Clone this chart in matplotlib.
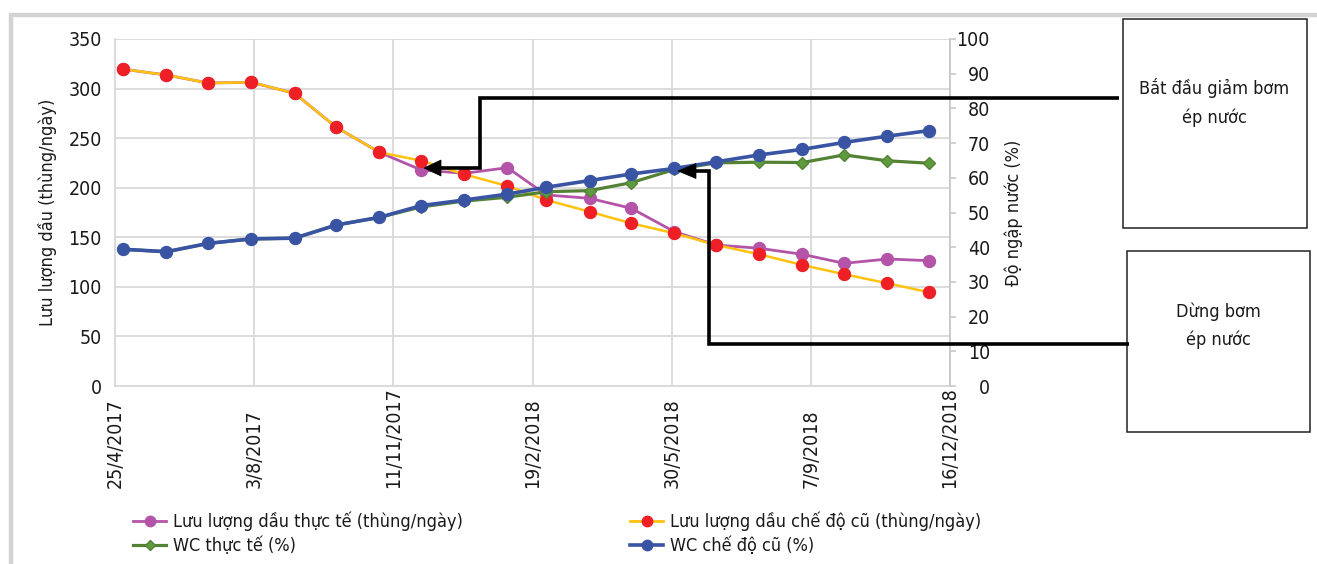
import matplotlib
matplotlib.use('Agg')
import matplotlib.pyplot as plt
import matplotlib.font_manager as fm
from matplotlib.patches import Rectangle, Polygon
from matplotlib.lines import Line2D
import pandas as pd

# ---------------- data ----------------
dates = ['2017-05-01', '2017-06-01', '2017-07-01', '2017-08-01', '2017-09-01',
         '2017-10-01', '2017-11-01', '2017-12-01', '2018-01-01', '2018-02-01',
         '2018-03-01', '2018-04-01', '2018-05-01', '2018-06-01', '2018-07-01',
         '2018-08-01', '2018-09-01', '2018-10-01', '2018-11-01', '2018-12-01']
oil_actual = [319.5, 313.7, 305.6, 306.3, 295.2, 261.0, 235.7, 217.9, 214.5, 220.2,
              192.7, 189.3, 179.2, 155.6, 142.2, 138.9, 132.8, 123.7, 128.1, 126.4]
oil_old = [319.5, 313.7, 305.6, 306.3, 295.2, 261.0, 235.7, 227.3, 213.5, 201.7,
           187.6, 175.8, 164.1, 154.0, 142.2, 132.8, 122.0, 112.7, 103.6, 94.5]
wc_actual = [39.4, 38.7, 41.1, 42.4, 42.6, 46.4, 48.6, 51.6, 53.3, 54.4,
             56.0, 56.3, 58.6, 62.4, 64.3, 64.5, 64.4, 66.6, 64.9, 64.2]
wc_old = [39.4, 38.7, 41.1, 42.4, 42.6, 46.4, 48.6, 52.0, 53.6, 55.3,
          57.3, 59.2, 61.1, 62.7, 64.6, 66.6, 68.2, 70.2, 72.0, 73.6]

xtick_dates = ['2017-04-25', '2017-08-03', '2017-11-11', '2018-02-19',
               '2018-05-30', '2018-09-07', '2018-12-16']
xtick_labels = ['25/4/2017', '3/8/2017', '11/11/2017', '19/2/2018',
                '30/5/2018', '7/9/2018', '16/12/2018']
left_ticks = [0, 50, 100, 150, 200, 250, 300, 350]
right_ticks = [0, 10, 20, 30, 40, 50, 60, 70, 80, 90, 100]

series_names = ['Lưu lượng dầu thực tế (thùng/ngày)',
                'Lưu lượng dầu chế độ cũ (thùng/ngày)',
                'WC thực tế (%)',
                'WC chế độ cũ (%)']
left_label = 'Lưu lượng dầu (thùng/ngày)'
right_label = 'Độ ngập nước (%)'
box1_lines = ['Bắt đầu giảm bơm', 'ép nước']
box2_lines = ['Dừng bơm', 'ép nước']

# ---------------- fonts ----------------
names = {f.name for f in fm.fontManager.ttflist}
if 'Liberation Sans Narrow' in names:
    plt.rcParams['font.family'] = ['Liberation Sans Narrow', 'DejaVu Sans']
    FS = 14.5
    FT = 15.5
else:
    plt.rcParams['font.family'] = ['DejaVu Sans']
    has_cond = any(f.name == 'DejaVu Sans' and 'condensed' in str(f.stretch)
                   for f in fm.fontManager.ttflist)
    if has_cond:
        plt.rcParams['font.stretch'] = 'condensed'
        FS = 13
        FT = 14
    else:
        FS = 11.5
        FT = 12.5
TXT = '#1a1a1a'
GRID = '#D9D9D9'

# ---------------- figure ----------------
W, H = 1317, 564
fig = plt.figure(figsize=(W / 100, H / 100), dpi=100)
fig.patch.set_facecolor('white')


def fx(x):
    return x / W


def fy(y):
    return 1 - y / H


ax = fig.add_axes([fx(115), fy(386), (950 - 115) / W, (386 - 39) / H])
ax2 = ax.twinx()

x = pd.to_datetime(dates)

c_pink = '#B454A8'
c_red = '#EE2025'
c_yel = '#FFC20E'
c_grn_l = '#548235'
c_grn_m = '#5E9B3F'
c_blue = '#3A54A4'

ax.plot(x, oil_actual, color=c_pink, lw=2.0, marker='o', ms=8.6,
        mfc=c_pink, mec=c_pink, zorder=3)
ax.plot(x, oil_old, color=c_yel, lw=1.8, marker='o', ms=8.6,
        mfc=c_red, mec=c_red, zorder=4)
ax2.plot(x, wc_actual, color=c_grn_l, lw=2.3, marker='D', ms=6.0,
         mfc=c_grn_m, mec=c_grn_l, zorder=3)
ax2.plot(x, wc_old, color=c_blue, lw=2.6, marker='o', ms=8.6,
         mfc=c_blue, mec=c_blue, zorder=4)

xt = pd.to_datetime(xtick_dates)
ax.set_xlim(xt[0], xt[-1])
ax.set_ylim(0, 350)
ax2.set_ylim(0, 100)

ax.set_xticks(xt)
ax.set_xticklabels(xtick_labels)
ax.set_yticks(left_ticks)
ax2.set_yticks(right_ticks)

ax.grid(True, color=GRID, lw=1.3)
ax.set_axisbelow(True)

for s in ['top', 'right']:
    ax.spines[s].set_visible(False)
for s in ['left', 'bottom']:
    ax.spines[s].set_color(GRID)
    ax.spines[s].set_linewidth(1.3)
for s in ['top', 'left', 'bottom']:
    ax2.spines[s].set_visible(False)
ax2.spines['right'].set_color('#C8C8C8')
ax2.spines['right'].set_linewidth(1.3)

ax.tick_params(axis='y', length=0, pad=9.5, labelsize=FT, labelcolor=TXT)
ax.tick_params(axis='x', length=0, pad=73.4, labelsize=FT, labelcolor=TXT,
               labelrotation=90)
for lab in ax.get_xticklabels():
    lab.set_ha('left')
    lab.set_va('center')
    lab.set_rotation_mode('anchor')

ax2.tick_params(axis='y', length=4.3, width=1.2, color='#C8C8C8',
                pad=24.5, labelsize=FT, labelcolor=TXT)
for lab in ax2.get_yticklabels():
    lab.set_ha('right')

ax.set_ylabel(left_label, fontsize=FS, color=TXT, va='center')
ax.yaxis.set_label_coords((47.5 - 115) / 835, 0.5)
ax2.set_ylabel(right_label, fontsize=FS, color=TXT, va='center')
ax2.yaxis.set_label_coords((1014 - 115) / 835, 0.5)

# ---------------- legends ----------------
h_pink = Line2D([], [], color=c_pink, lw=2.0, marker='o', ms=7.5, mfc=c_pink, mec=c_pink)
h_red = Line2D([], [], color=c_yel, lw=2.0, marker='o', ms=7.5, mfc=c_red, mec=c_red)
h_grn = Line2D([], [], color=c_grn_l, lw=2.3, marker='D', ms=5.5, mfc=c_grn_m, mec=c_grn_l)
h_blue = Line2D([], [], color=c_blue, lw=2.6, marker='o', ms=7.5, mfc=c_blue, mec=c_blue)

fs_px = FS * 100 / 72
common = dict(frameon=False, fontsize=FS, handlelength=33 / fs_px,
              handletextpad=7 / fs_px, borderpad=0, borderaxespad=0,
              labelspacing=0.3, loc='center left', labelcolor=TXT)
leg1 = fig.legend([h_pink, h_grn], [series_names[0], series_names[2]],
                  bbox_to_anchor=(fx(133), fy(533.5)), **common)
leg2 = fig.legend([h_red, h_blue], [series_names[1], series_names[3]],
                  bbox_to_anchor=(fx(630), fy(533.5)), **common)

# ---------------- frame ----------------
fig.add_artist(Rectangle((fx(10.7), fy(H + 30)), (W + 40) / W, (H + 30 - 14.5) / H,
                         transform=fig.transFigure, fill=False,
                         edgecolor='#D3D3D3', lw=3.2, zorder=0))

# ---------------- text boxes ----------------
fig.add_artist(Rectangle((fx(1123), fy(228)), (1307 - 1123) / W, (228 - 19) / H,
                         transform=fig.transFigure, fill=False,
                         edgecolor='#222222', lw=1.1))
fig.add_artist(Rectangle((fx(1127), fy(432)), (1310 - 1127) / W, (432 - 251) / H,
                         transform=fig.transFigure, fill=False,
                         edgecolor='#222222', lw=1.1))
for txt, yy in zip(box1_lines, [88, 118]):
    fig.text(fx(1214), fy(yy), txt, ha='center', va='center', fontsize=FS, color=TXT)
for txt, yy in zip(box2_lines, [312, 340]):
    fig.text(fx(1218), fy(yy), txt, ha='center', va='center', fontsize=FS, color=TXT)

# ---------------- arrows ----------------
def elbow_arrow(pts, tip, base_x, half):
    xs = [fx(p[0]) for p in pts] + [fx(base_x)]
    ys = [fy(p[1]) for p in pts] + [fy(tip[1])]
    fig.add_artist(Line2D(xs, ys, color='black', lw=2.6,
                          solid_joinstyle='miter', solid_capstyle='butt', zorder=5))
    fig.add_artist(Polygon([(fx(tip[0]), fy(tip[1])),
                            (fx(base_x + 1), fy(tip[1] - half)),
                            (fx(base_x + 1), fy(tip[1] + half))],
                           closed=True, transform=fig.transFigure,
                           facecolor='black', edgecolor='black', lw=0.5, zorder=5))


elbow_arrow([(1119, 98), (480, 98), (480, 168)], (424, 168), 440, 8)
elbow_arrow([(1129, 344), (709, 344), (709, 171)], (678, 171), 695, 7.5)

fig.savefig('out.png', dpi=100)
